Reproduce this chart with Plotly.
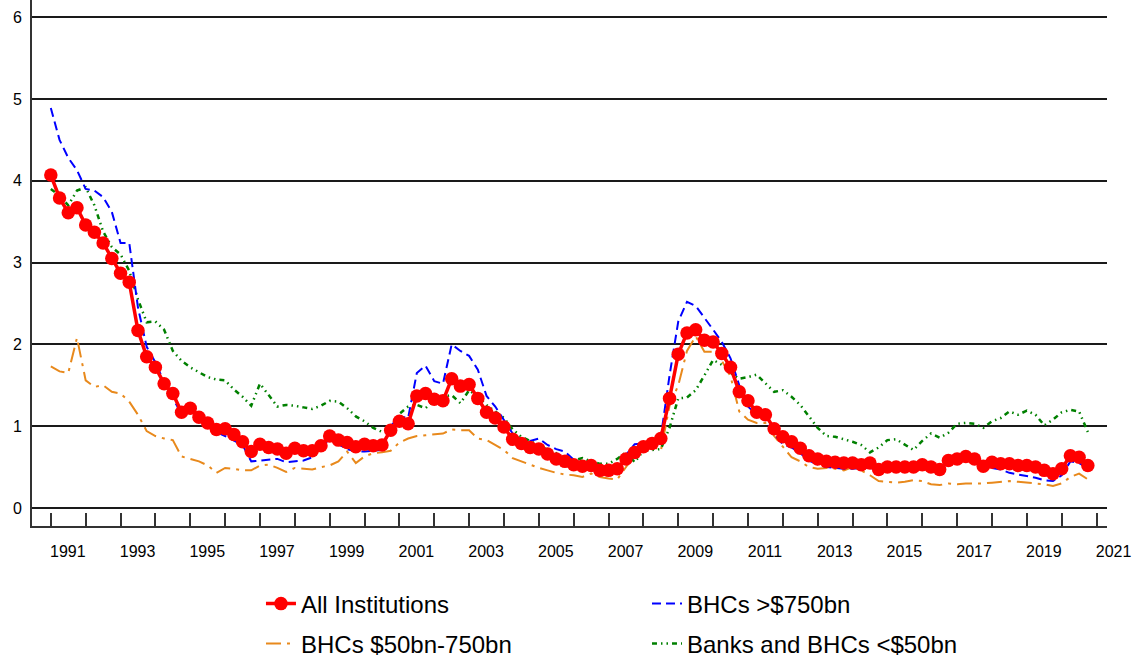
import plotly.graph_objects as go

# ---- data (quarterly, 1991Q1 .. 2020Q4) ----
start_year = 1991
n_quarters = 120
quarters = [start_year + q / 4 for q in range(n_quarters)]

all_institutions = [
    4.07, 3.79, 3.61, 3.67, 3.46, 3.37, 3.24, 3.05, 2.87, 2.76,
    2.17, 1.85, 1.72, 1.52, 1.40, 1.17, 1.22, 1.11, 1.04, 0.96,
    0.97, 0.90, 0.81, 0.69, 0.78, 0.74, 0.72, 0.67, 0.73, 0.70,
    0.70, 0.76, 0.88, 0.83, 0.80, 0.75, 0.78, 0.76, 0.77, 0.95,
    1.06, 1.03, 1.37, 1.40, 1.33, 1.31, 1.58, 1.49, 1.51, 1.34,
    1.17, 1.10, 0.99, 0.84, 0.79, 0.74, 0.72, 0.66, 0.60, 0.57,
    0.53, 0.51, 0.52, 0.46, 0.46, 0.48, 0.60, 0.68, 0.75, 0.79,
    0.85, 1.34, 1.88, 2.14, 2.18, 2.05, 2.03, 1.89, 1.72, 1.42,
    1.31, 1.17, 1.14, 0.97, 0.87, 0.81, 0.73, 0.64, 0.60, 0.57,
    0.56, 0.55, 0.55, 0.53, 0.55, 0.47, 0.50, 0.50, 0.50, 0.50,
    0.53, 0.50, 0.47, 0.58, 0.60, 0.63, 0.60, 0.51, 0.56, 0.54,
    0.54, 0.52, 0.52, 0.50, 0.46, 0.42, 0.48, 0.64, 0.62, 0.52,
]

bhcs_over_750 = [
    4.89, 4.50, 4.28, 4.13, 3.90, 3.88, 3.80, 3.62, 3.24, 3.24,
    2.45, 1.97, 1.78, 1.54, 1.34, 1.15, 1.18, 1.10, 1.01, 0.93,
    0.88, 0.83, 0.77, 0.57, 0.58, 0.59, 0.60, 0.56, 0.57, 0.58,
    0.62, 0.75, 0.84, 0.78, 0.72, 0.69, 0.69, 0.70, 0.71, 1.00,
    1.12, 1.10, 1.65, 1.74, 1.55, 1.52, 2.00, 1.92, 1.86, 1.69,
    1.37, 1.24, 1.08, 0.91, 0.83, 0.82, 0.85, 0.77, 0.72, 0.69,
    0.59, 0.55, 0.53, 0.49, 0.48, 0.44, 0.65, 0.78, 0.79, 0.80,
    0.87, 1.62, 2.28, 2.52, 2.47, 2.33, 2.18, 2.03, 1.83, 1.50,
    1.24, 1.14, 1.08, 0.90, 0.78, 0.74, 0.67, 0.58, 0.53, 0.50,
    0.49, 0.48, 0.48, 0.49, 0.49, 0.47, 0.48, 0.48, 0.48, 0.48,
    0.50, 0.47, 0.44, 0.60, 0.61, 0.64, 0.60, 0.50, 0.49, 0.47,
    0.43, 0.41, 0.39, 0.37, 0.34, 0.33, 0.40, 0.57, 0.55, 0.49,
]

bhcs_50_750 = [
    1.73, 1.67, 1.65, 2.08, 1.56, 1.48, 1.50, 1.42, 1.40, 1.30,
    1.14, 0.94, 0.88, 0.85, 0.83, 0.63, 0.60, 0.57, 0.52, 0.43,
    0.49, 0.48, 0.46, 0.46, 0.52, 0.53, 0.49, 0.44, 0.49, 0.48,
    0.47, 0.50, 0.52, 0.57, 0.69, 0.55, 0.63, 0.67, 0.68, 0.70,
    0.80, 0.85, 0.88, 0.89, 0.90, 0.91, 0.96, 0.95, 0.95, 0.85,
    0.83, 0.77, 0.71, 0.61, 0.57, 0.53, 0.49, 0.46, 0.43, 0.41,
    0.40, 0.38, 0.42, 0.38, 0.36, 0.35, 0.50, 0.65, 0.72, 0.76,
    0.70, 1.25, 1.50, 1.92, 2.10, 1.91, 1.91, 1.80, 1.61, 1.18,
    1.08, 1.04, 1.04, 0.88, 0.75, 0.62, 0.57, 0.50, 0.48, 0.49,
    0.48, 0.46, 0.50, 0.46, 0.40, 0.33, 0.32, 0.31, 0.32, 0.34,
    0.33, 0.29, 0.28, 0.30, 0.29, 0.30, 0.30, 0.30, 0.31, 0.32,
    0.33, 0.32, 0.31, 0.30, 0.29, 0.27, 0.30, 0.38, 0.42, 0.35,
]

banks_under_50 = [
    3.90, 3.82, 3.70, 3.88, 3.92, 3.70, 3.38, 3.19, 3.10, 2.90,
    2.55, 2.27, 2.28, 2.18, 1.92, 1.80, 1.72, 1.66, 1.60, 1.57,
    1.56, 1.45, 1.36, 1.25, 1.52, 1.38, 1.24, 1.26, 1.25, 1.23,
    1.21, 1.25, 1.31, 1.30, 1.22, 1.12, 1.06, 0.98, 0.93, 0.95,
    1.15, 1.24, 1.26, 1.22, 1.32, 1.36, 1.38, 1.28, 1.44, 1.36,
    1.26, 1.18, 1.10, 0.96, 0.87, 0.82, 0.76, 0.71, 0.67, 0.58,
    0.58, 0.61, 0.57, 0.54, 0.54, 0.60, 0.68, 0.56, 0.70, 0.71,
    0.72, 0.98, 1.34, 1.35, 1.44, 1.62, 1.81, 1.75, 1.65, 1.58,
    1.60, 1.63, 1.53, 1.42, 1.44, 1.36, 1.26, 1.12, 0.98, 0.88,
    0.87, 0.84, 0.81, 0.77, 0.68, 0.74, 0.83, 0.84, 0.78, 0.71,
    0.82, 0.91, 0.86, 0.92, 1.03, 1.04, 1.03, 0.98, 1.06, 1.10,
    1.18, 1.14, 1.19, 1.14, 1.01, 1.08, 1.17, 1.20, 1.18, 0.93,
]

year_ticks = list(range(1991, 2022, 2))
year_labels = [str(y) for y in year_ticks]
y_ticks = [0, 1, 2, 3, 4, 5, 6]

FONT = "Arial, Liberation Sans, sans-serif"

fig = go.Figure()
fig.add_trace(go.Scatter(
    x=quarters, y=bhcs_50_750, name="BHCs $50bn-750bn", mode="lines",
    line=dict(color="#E8891C", width=2, dash="longdashdot"), legend="legend2",
))
fig.add_trace(go.Scatter(
    x=quarters, y=banks_under_50, name="Banks and BHCs <$50bn", mode="lines",
    line=dict(color="#008000", width=2.5, dash="5px,4px,1.5px,4px,1.5px,4px"), legend="legend2",
))
fig.add_trace(go.Scatter(
    x=quarters, y=bhcs_over_750, name="BHCs >$750bn", mode="lines",
    line=dict(color="#0000FF", width=2, dash="9px,5px"), legend="legend",
))
fig.add_trace(go.Scatter(
    x=quarters, y=all_institutions, name="All Institutions", mode="lines+markers",
    line=dict(color="#FF0000", width=3.5), marker=dict(size=13.5, color="#FF0000"),
    legend="legend",
))

legend_common = dict(
    orientation="h", font=dict(family=FONT, size=24, color="#000000"),
    bgcolor="rgba(0,0,0,0)", entrywidth=341, entrywidthmode="pixels",
    xanchor="left", yanchor="middle",
)
fig.update_layout(
    width=1137, height=658,
    margin=dict(l=32, r=30, t=0, b=132, autoexpand=False),
    paper_bgcolor="white", plot_bgcolor="white",
    font=dict(family=FONT, size=15, color="#000000"),
    showlegend=True,
    legend=dict(x=0.213, y=-0.1483, traceorder="reversed", **legend_common),
    legend2=dict(x=0.213, y=-0.2243, traceorder="normal", **legend_common),
    xaxis=dict(
        range=[1990.46, 2021.3], tickmode="array", tickvals=year_ticks, ticktext=year_labels,
        ticks="inside", ticklen=13, tickwidth=1.5, tickcolor="#333333",
        ticklabelshift=17, ticklabelstandoff=10, automargin=False,
        minor=dict(dtick=1, tick0=1991, ticks="inside", ticklen=13, tickwidth=1.5, tickcolor="#333333", showgrid=False),
        showline=True, linecolor="#333333", linewidth=2, showgrid=False, zeroline=False,
        tickfont=dict(size=16),
    ),
    yaxis=dict(
        range=[-0.22, 6.21], tickmode="array", tickvals=y_ticks, automargin=False,
        showline=True, linecolor="#333333", linewidth=2,
        showgrid=True, gridcolor="#1a1a1a", gridwidth=1.5, zeroline=False,
        ticks="", ticklabelstandoff=5, tickfont=dict(size=16),
    ),
)

fig.write_html(
    "out.html",
    config={"displayModeBar": False},
    post_script="document.body.style.margin='0';document.body.style.overflow='hidden';",
)
